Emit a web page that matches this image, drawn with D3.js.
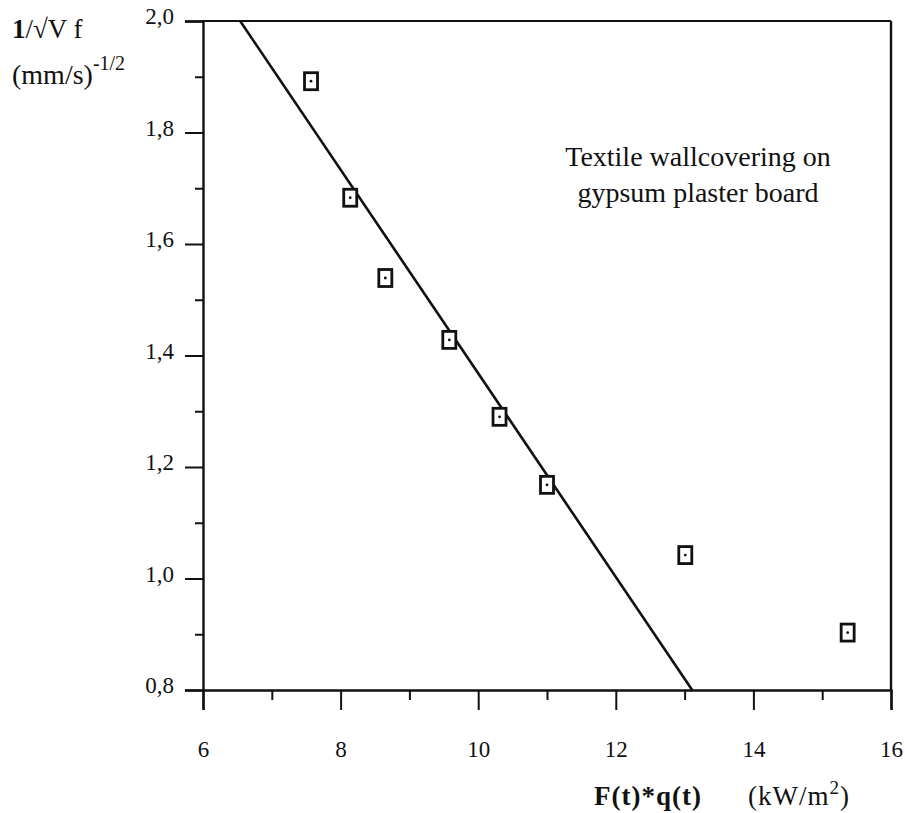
<!DOCTYPE html>
<html><head><meta charset="utf-8">
<script src="https://cdn.jsdelivr.net/npm/d3@7"></script>
<style>
body{margin:0;background:#fff;}
</style></head>
<body><svg id="c" width="905" height="813"></svg>
<script>
// Data
const pointX = [7.57, 8.14, 8.65, 9.58, 10.31, 11.00, 13.01, 15.37];
const pointY = [1.892, 1.683, 1.539, 1.428, 1.290, 1.168, 1.042, 0.903];
const fitLineX = [6.54, 13.11];
const fitLineY = [2.0, 0.8];
const xMajorTicks = [6, 8, 10, 12, 14, 16];
const xMinorTicks = [7, 9, 11, 13, 15];
const yMajorTicks = [0.8, 1.0, 1.2, 1.4, 1.6, 1.8, 2.0];
const yMinorTicks = [0.9, 1.1, 1.3, 1.5, 1.7, 1.9];
const annotationLines = ["Textile wallcovering on", "gypsum plaster board"];

const FONT = "'Liberation Serif', 'Times New Roman', Times, serif";
const svg = d3.select("#c");
const x = d3.scaleLinear().domain([6, 16]).range([203, 891]);
const y = d3.scaleLinear().domain([0.8, 2.0]).range([690, 21]);
const fmtY = d => d3.format(".1f")(d).replace(".", ",");

// frame (top & right)
svg.append("line").attr("x1", x(6)).attr("x2", x(16)).attr("y1", y(2)).attr("y2", y(2))
  .attr("stroke", "#111").attr("stroke-width", 2.2);
svg.append("line").attr("x1", x(16)).attr("x2", x(16)).attr("y1", y(2)).attr("y2", y(0.8))
  .attr("stroke", "#111").attr("stroke-width", 2.4);

// x axis
const gx = svg.append("g").attr("transform", `translate(0,${y(0.8)})`);
gx.call(d3.axisBottom(x).tickValues(xMajorTicks).tickSize(20).tickPadding(31).tickFormat(d3.format("d")));
const gxm = svg.append("g").attr("transform", `translate(0,${y(0.8)})`);
gxm.call(d3.axisBottom(x).tickValues(xMinorTicks).tickSize(10).tickFormat(""));
gxm.select(".domain").remove();

// y axis
const gy = svg.append("g").attr("transform", `translate(${x(6)},0)`);
gy.call(d3.axisLeft(y).tickValues(yMajorTicks).tickSize(18).tickPadding(11).tickFormat(fmtY));
const gym = svg.append("g").attr("transform", `translate(${x(6)},0)`);
gym.call(d3.axisLeft(y).tickValues(yMinorTicks).tickSize(8).tickFormat(""));
gym.select(".domain").remove();

svg.selectAll("g").attr("font-family", FONT);
svg.selectAll(".domain").attr("stroke", "#111").attr("stroke-width", 2.4);
svg.selectAll(".tick line").attr("stroke", "#111").attr("stroke-width", 2);
svg.selectAll(".tick text").attr("font-size", 23).attr("fill", "#111")
  .style("font-family", FONT);
gy.selectAll(".tick text").attr("dy", "0.12em");

// fit line
svg.append("line")
  .attr("x1", x(fitLineX[0])).attr("y1", y(fitLineY[0]))
  .attr("x2", x(fitLineX[1])).attr("y2", y(fitLineY[1]))
  .attr("stroke", "#111").attr("stroke-width", 2.6);

// points
const pts = pointX.map((v, i) => ({x: v, y: pointY[i]}));
const g = svg.append("g");
g.selectAll("rect").data(pts).join("rect")
  .attr("x", d => x(d.x) - 6.5).attr("y", d => y(d.y) - 8.5)
  .attr("width", 13).attr("height", 17)
  .attr("fill", "#fff").attr("stroke", "#111").attr("stroke-width", 2.8);
g.selectAll("circle").data(pts).join("circle")
  .attr("cx", d => x(d.x)).attr("cy", d => y(d.y)).attr("r", 1.4).attr("fill", "#111");

// annotation
svg.append("text").attr("font-size", 28).attr("text-anchor", "middle")
  .style("font-family", FONT).attr("fill", "#111")
  .selectAll("tspan").data(annotationLines).join("tspan")
  .attr("x", 698).attr("y", (d, i) => 166 + i * 36).text(d => d);

// y title
const yt = svg.append("text").attr("x", 12).attr("y", 38).attr("font-size", 27)
  .style("font-family", FONT).attr("fill", "#111");
yt.append("tspan").attr("font-weight", "bold").text("1");
yt.append("tspan").text("/√V f");
const yu = svg.append("text").attr("x", 12).attr("y", 84).attr("font-size", 28)
  .style("font-family", FONT).attr("fill", "#111");
yu.append("tspan").text("(mm/s)");
yu.append("tspan").attr("font-size", 20).attr("dy", -14).text("-1/2");

// x title
svg.append("text").attr("x", 594).attr("y", 805).attr("font-size", 27)
  .attr("letter-spacing", 1)
  .style("font-family", FONT).attr("fill", "#111")
  .attr("font-weight", "bold").text("F(t)*q(t)");
const xu = svg.append("text").attr("x", 748).attr("y", 805).attr("font-size", 27)
  .attr("letter-spacing", 1)
  .style("font-family", FONT).attr("fill", "#111");
xu.append("tspan").text("(kW/m");
xu.append("tspan").attr("font-size", 19).attr("dy", -11).text("2");
xu.append("tspan").attr("dy", 11).text(")");
</script></body></html>
